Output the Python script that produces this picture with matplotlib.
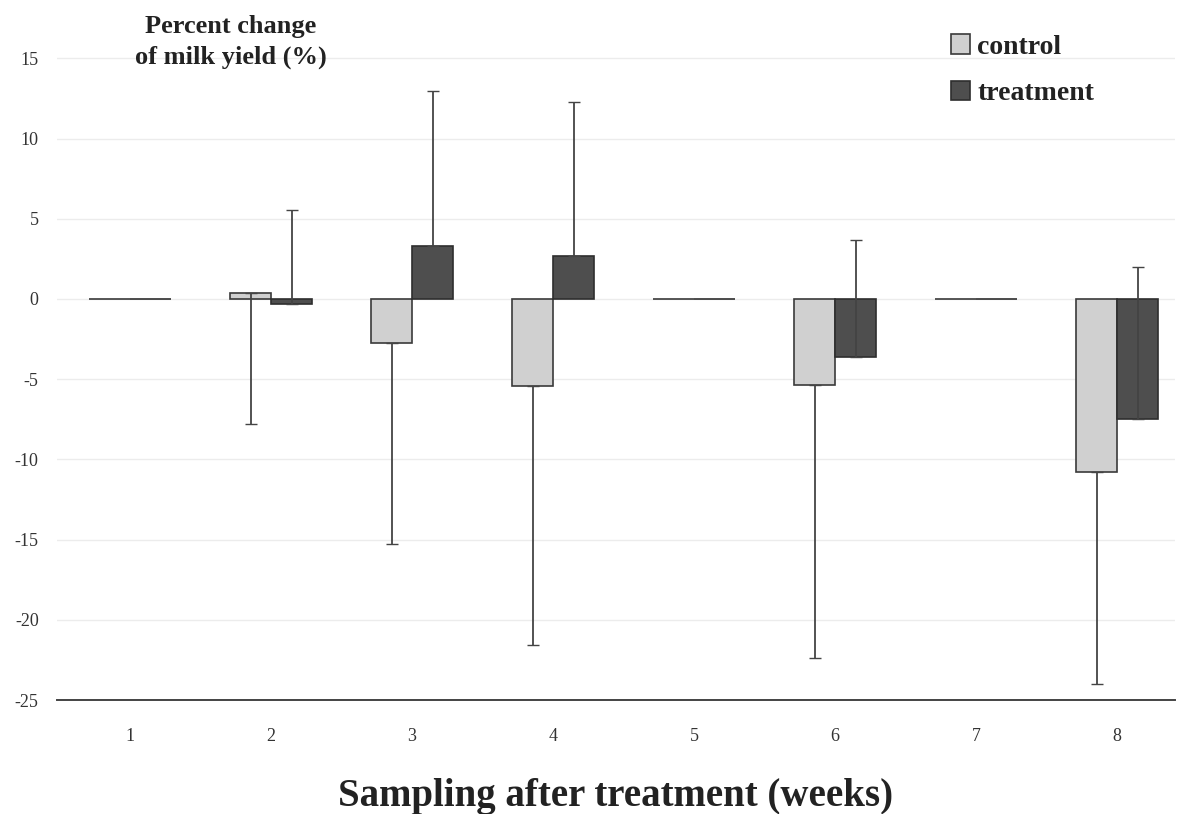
import matplotlib.pyplot as plt
import numpy as np

plt.rcParams['font.family'] = ['Liberation Serif', 'DejaVu Serif']
plt.rcParams['axes.unicode_minus'] = False

# Data
weeks = ["1", "2", "3", "4", "5", "6", "7", "8"]
control = [0, 0.4, -2.75, -5.4, 0, -5.35, 0, -10.8]
control_err = [0, 8.2, 12.55, 16.2, 0, 17.05, 0, 13.2]   # drawn downward
treatment = [0, -0.3, 3.3, 2.7, 0, -3.6, 0, -7.5]
treatment_err = [0, 5.85, 9.65, 9.6, 0, 7.25, 0, 9.5]   # drawn upward

x = np.arange(1, len(weeks) + 1)
w = 0.29

fig = plt.figure(figsize=(11.82, 8.14), dpi=100)
ax = fig.add_axes([0.048, 0.14, 0.946, 0.808])

ax.bar(x - w / 2, control, w, color='#d0d0d0', edgecolor='#3a3a3a',
       linewidth=1.2, label='control', zorder=3)
ax.bar(x + w / 2, treatment, w, color='#4e4e4e', edgecolor='#2e2e2e',
       linewidth=1.2, label='treatment', zorder=3)

ce = [i for i in range(len(weeks)) if control_err[i] > 0]
te = [i for i in range(len(weeks)) if treatment_err[i] > 0]
ax.errorbar(x[ce] - w / 2, np.array(control)[ce],
            yerr=[np.array(control_err)[ce], np.zeros(len(ce))],
            fmt='none', ecolor='#444444', elinewidth=1.3, capsize=4, zorder=4)
ax.errorbar(x[te] + w / 2, np.array(treatment)[te],
            yerr=[np.zeros(len(te)), np.array(treatment_err)[te]],
            fmt='none', ecolor='#444444', elinewidth=1.3, capsize=4, zorder=4)

ax.set_xlim(0.48, 8.41)
ax.set_ylim(-25, 16)
ax.set_yticks(range(-25, 16, 5))
ax.set_xticks(x)
ax.set_xticklabels(weeks)
ax.tick_params(axis='both', length=0, labelsize=13, colors='#333333')
ax.tick_params(axis='y', pad=13)
ax.tick_params(axis='x', pad=20)

for s in ['top', 'right', 'left']:
    ax.spines[s].set_visible(False)
ax.spines['bottom'].set_color('#444444')
ax.spines['bottom'].set_linewidth(1.4)

ax.yaxis.grid(True, color='#ececec', linewidth=1)
ax.set_axisbelow(True)

fig.text(0.195, 0.982, "Percent change\nof milk yield (%)", ha='center', va='top',
         fontsize=19, fontweight='bold', color='#222222', linespacing=1.45)

ax.set_xlabel("Sampling after treatment (weeks)", fontsize=28, fontweight='bold',
              color='#222222', labelpad=24)

leg = ax.legend(loc='upper right', bbox_to_anchor=(0.95, 1.05), frameon=False,
                prop={'weight': 'bold', 'size': 20}, handlelength=0.7,
                handleheight=0.7, handletextpad=0.25, labelspacing=0.75)
for t in leg.get_texts():
    t.set_color('#222222')

plt.savefig("out.png", dpi=100)
